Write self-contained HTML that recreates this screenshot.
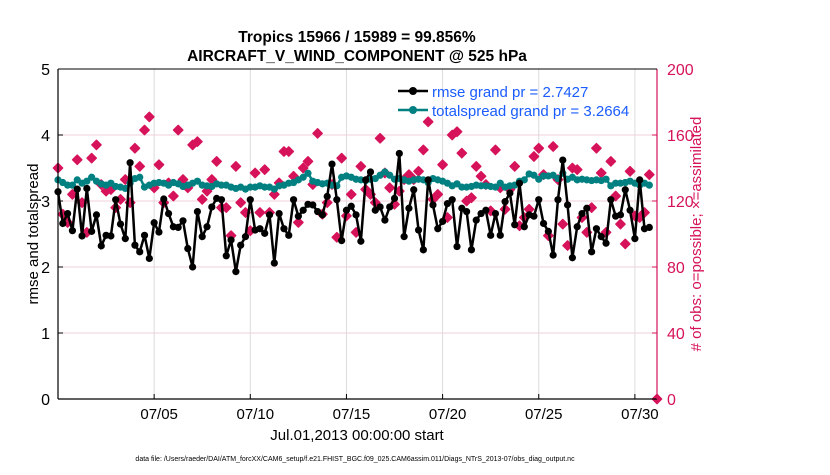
<!DOCTYPE html>
<html><head><meta charset="utf-8"><style>
body{margin:0;background:#fff;font-family:"Liberation Sans",sans-serif}
</style></head><body>
<svg id="chart" width="830" height="470" viewBox="0 0 830 470" xmlns="http://www.w3.org/2000/svg" font-family="Liberation Sans, sans-serif">
<rect width="830" height="470" fill="#fff"/>
<g id="grid"></g>
<g id="series"></g>
<g id="axes"></g>
<text x="357" y="42" font-size="15.5" font-weight="bold" text-anchor="middle">Tropics 15966 / 15989 = 99.856%</text>
<text x="357" y="61" font-size="15.5" font-weight="bold" text-anchor="middle">AIRCRAFT_V_WIND_COMPONENT @ 525 hPa</text>
<text transform="translate(38,234) rotate(-90)" font-size="15" text-anchor="middle">rmse and totalspread</text>
<text transform="translate(701,234) rotate(-90)" font-size="15" fill="#d6135a" text-anchor="middle"># of obs: o=possible; ×=assimilated</text>
<text x="357" y="440" font-size="15" text-anchor="middle">Jul.01,2013 00:00:00 start</text>
<text x="355" y="461" font-size="7" text-anchor="middle">data file: /Users/raeder/DAI/ATM_forcXX/CAM6_setup/f.e21.FHIST_BGC.f09_025.CAM6assim.011/Diags_NTrS_2013-07/obs_diag_output.nc</text>
<g>
<line x1="398" y1="91" x2="428" y2="91" stroke="#000" stroke-width="2.5"/><circle cx="413" cy="91" r="4" fill="#000"/>
<text x="432" y="97" font-size="15" fill="#1a5cff">rmse grand pr = 2.7427</text>
<line x1="398" y1="110" x2="428" y2="110" stroke="#008080" stroke-width="2.5"/><circle cx="413" cy="110" r="4" fill="#008080"/>
<text x="432" y="116" font-size="15" fill="#1a5cff">totalspread grand pr = 3.2664</text>
</g>
</svg>
<script>
const rmse=[3.14,2.66,2.81,2.55,3.18,2.47,3.19,2.54,2.79,2.32,2.48,2.47,3.02,2.65,2.43,3.58,2.33,2.23,2.48,2.13,2.67,2.53,3.03,2.81,2.61,2.60,2.70,2.28,2.00,2.84,2.46,2.61,2.91,3.04,3.02,2.17,2.41,1.93,2.33,2.46,3.02,2.56,2.58,2.51,
2.79,2.06,2.81,2.58,2.48,3.02,2.77,2.86,2.95,2.94,2.84,2.79,3.07,3.56,3.02,2.40,2.86,2.92,2.79,2.39,3.32,3.44,2.86,2.91,2.71,2.91,3.04,3.72,2.46,2.89,3.17,2.56,2.26,3.32,2.94,2.58,2.69,2.96,3.02,2.31,
2.89,2.84,2.26,2.71,2.81,2.86,2.48,2.81,2.48,2.99,3.12,2.64,3.27,2.61,2.79,2.77,3.02,2.66,2.54,2.18,3.02,3.62,2.94,2.14,2.61,2.81,2.89,2.23,2.58,2.46,2.36,3.02,2.77,2.79,3.17,2.86,2.43,3.32,2.58,2.60];
const spread=[3.32,3.28,3.24,3.24,3.32,3.27,3.30,3.36,3.30,3.26,3.24,3.27,3.22,3.21,3.19,3.27,3.34,3.36,3.21,3.24,3.27,3.28,3.27,3.24,3.28,3.26,3.22,3.24,3.27,3.30,3.24,3.23,3.22,3.26,3.24,3.24,3.21,3.19,3.21,3.18,3.21,3.21,3.23,3.21,
3.21,3.18,3.23,3.24,3.27,3.28,3.32,3.36,3.42,3.30,3.28,3.26,3.27,3.24,3.23,3.36,3.38,3.36,3.33,3.32,3.31,3.33,3.34,3.39,3.44,3.39,3.33,3.34,3.32,3.30,3.32,3.33,3.32,3.28,3.34,3.32,3.30,3.27,3.23,3.26,
3.21,3.21,3.22,3.24,3.23,3.23,3.22,3.21,3.27,3.21,3.23,3.24,3.30,3.32,3.41,3.39,3.33,3.38,3.38,3.39,3.34,3.42,3.33,3.36,3.32,3.33,3.32,3.31,3.32,3.31,3.33,3.23,3.27,3.27,3.28,3.30,3.27,3.24,3.27,3.24];
const nobs=[140,112,107,124,145,119,101,146,154,130,126,127,116,121,133,119,152,141,163,171,128,142,119,131,123,163,133,128,154,156,121,126,133,144,116,116,99,141,119,113,102,137,113,139,
113,124,131,150,150,135,107,140,144,130,161,112,119,130,98,146,111,124,101,141,127,124,119,158,137,128,118,126,133,136,133,138,151,168,121,124,142,110,160,162,
149,120,122,141,135,130,114,151,128,115,127,141,105,110,115,147,152,136,99,153,133,106,93,140,139,110,101,116,152,137,101,144,123,106,94,138,111,110,113,136];
const leftTicks=[0,1,2,3,4,5];
const rightTicks=[0,40,80,120,160,200];
const dateTicks=[5,10,15,20,25,30];
const dateLabels=["07/05","07/10","07/15","07/20","07/25","07/30"];
const stepDays=0.25;
const endCount=0;

const X0=58,X1=657,Y0=399,Y1=69,D0=0,D1=31.15;
const xs=d=>X0+(d-D0)/(D1-D0)*(X1-X0);
const yl=v=>Y0-v/5*(Y0-Y1);
const yr=v=>Y0-v/200*(Y0-Y1);
const NS="http://www.w3.org/2000/svg";
function mk(tag,attrs,parent){const e=document.createElementNS(NS,tag);for(const k in attrs)e.setAttribute(k,attrs[k]);parent.appendChild(e);return e;}
const grid=document.getElementById('grid'),ser=document.getElementById('series'),ax=document.getElementById('axes');
dateTicks.forEach((d,i)=>{
  const l=mk('line',{x1:xs(d),x2:xs(d),y1:Y1,y2:Y0,stroke:'#dcdcdc','stroke-width':1},grid);
  
  
  const t=mk('line',{x1:xs(d),x2:xs(d),y1:Y0,y2:Y0-5,stroke:'#000'},ax);
  
  
  const tx=mk('text',{x:xs(d)+5,y:Y0+20,'font-size':15,'text-anchor':'middle'},ax);
  tx.textContent=dateLabels[i];
  
  
});
leftTicks.forEach(v=>{
  const l=mk('line',{x1:X0,x2:X1,y1:yl(v),y2:yl(v),stroke:'#f0d0dc','stroke-width':1},grid);
  
  
  const tx=mk('text',{x:X0-8,y:yl(v)+6,'font-size':16,'text-anchor':'end'},ax);
  tx.textContent=v;
  
  
  const t=mk('line',{x1:X0,x2:X0+5,y1:yl(v),y2:yl(v),stroke:'#000'},ax);
  
  
});
rightTicks.forEach(v=>{
  const tx=mk('text',{x:X1+10,y:yr(v)+6,'font-size':16,fill:'#d6135a'},ax);
  tx.textContent=v;
  
  
  const t=mk('line',{x1:X1-5,x2:X1,y1:yr(v),y2:yr(v),stroke:'#d6135a'},ax);
  
  
});
const la=mk('line',{x1:X0,x2:X0,y1:Y1,y2:Y0,stroke:'#000','stroke-width':1.2},ax);


const ba=mk('line',{x1:X0,x2:X1,y1:Y0,y2:Y0,stroke:'#000','stroke-width':1.2},ax);


const ra=mk('line',{x1:X1,x2:X1,y1:Y1,y2:Y0,stroke:'#d6135a','stroke-width':1.2},ax);


const ta=mk('line',{x1:X0,x2:X1,y1:Y1,y2:Y1,stroke:'#000','stroke-width':1},ax);



function line(vals,color,name){
  const pts=vals.map((v,i)=>xs(i*stepDays)+','+yl(v)).join(' ');
  const p=mk('polyline',{points:pts,fill:'none',stroke:color,'stroke-width':2.5},ser);
  
  
  vals.forEach((v,i)=>{
    const c=mk('circle',{cx:xs(i*stepDays),cy:yl(v),r:3.6,fill:color},ser);
    
    
  });
}
function diamond(x,y){
  const s=4.6;
  const p=mk('polygon',{points:`${x},${y-s} ${x+s},${y} ${x},${y+s} ${x-s},${y}`,fill:'#d6135a',stroke:'#d6135a','stroke-width':1.5,'stroke-linejoin':'round'},ser);
  
  
}
nobs.forEach((v,i)=>diamond(xs(i*stepDays),yr(v)));
diamond(X1,yr(endCount));
line(spread,'#008080','totalspread');
line(rmse,'#000','rmse');
</script>
</body></html>
